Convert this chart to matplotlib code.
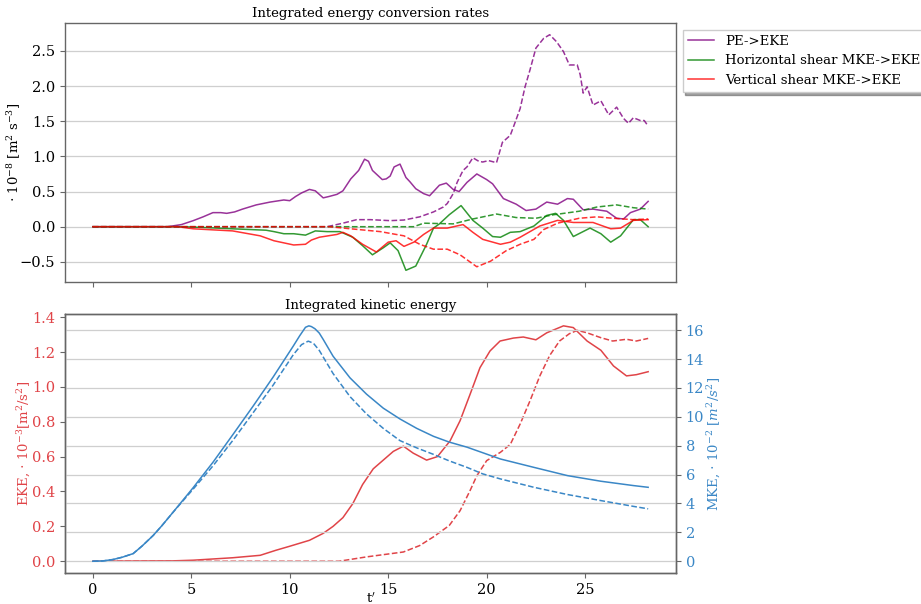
import matplotlib
matplotlib.use("Agg")
import matplotlib.pyplot as plt
import numpy as np

plt.rcParams["font.family"] = ["DejaVu Serif"]
plt.rcParams["mathtext.fontset"] = "dejavuserif"
plt.rcParams["axes.unicode_minus"] = True

PURPLE = "purple"
GREEN = "green"
RED = "red"
EKE_RED = "#e04448"
MKE_BLUE = "#3a87c6"
SPINE = "#666666"
GRID = "#cfcfcf"

# --- conversion rates (1e-8 m^2 s^-3), solid = run A, dashed = run B ---
t_pe = [0, 3.0, 3.8, 4.5, 5.1, 5.6, 6.1, 6.5, 6.8, 7.2, 7.6, 8.3, 9.0, 9.7, 10.0, 10.3,
        10.6, 11.0, 11.3, 11.7, 12.0, 12.4, 12.7, 13.1, 13.5, 13.8, 14.0, 14.2, 14.7,
        14.9, 15.1, 15.3, 15.6, 15.9, 16.1, 16.4, 16.8, 17.1, 17.3, 17.6, 17.95, 18.3,
        18.6, 19.0, 19.5, 20.0, 20.3, 20.85, 21.5, 22.0, 22.5, 23.05, 23.6, 24.1, 24.4,
        24.9, 25.4, 26.1, 26.6, 26.95, 27.3, 27.8, 28.2]
pe_a = [0, 0, 0, 0.03, 0.086, 0.14, 0.20, 0.20, 0.19, 0.21, 0.25, 0.31, 0.35, 0.38, 0.37,
        0.43, 0.48, 0.53, 0.51, 0.41, 0.43, 0.46, 0.51, 0.68, 0.80, 0.96, 0.93, 0.80, 0.67,
        0.68, 0.72, 0.85, 0.89, 0.70, 0.64, 0.54, 0.47, 0.44, 0.50, 0.59, 0.62, 0.53,
        0.50, 0.63, 0.75, 0.67, 0.61, 0.40, 0.32, 0.23, 0.25, 0.35, 0.32, 0.40, 0.39,
        0.24, 0.25, 0.22, 0.12, 0.11, 0.20, 0.25, 0.36]

t_pe_b = [0, 11.9, 12.7, 13.4, 14.1, 15.1, 15.8, 16.6, 17.3, 17.8, 18.0, 18.3, 18.5, 18.8,
          19.0, 19.3, 19.6, 19.8, 20.1, 20.5, 20.8, 21.2, 21.4, 21.7, 21.95, 22.2, 22.5,
          22.9, 23.2, 23.55, 23.9, 24.2, 24.6, 24.75, 24.9, 25.1, 25.4, 25.8, 26.2, 26.6,
          26.95, 27.2, 27.45, 27.8, 28.0, 28.2]
pe_b = [0, 0, 0.05, 0.10, 0.10, 0.086, 0.095, 0.14, 0.21, 0.28, 0.33, 0.47, 0.63, 0.80,
        0.85, 0.98, 0.93, 0.92, 0.94, 0.91, 1.20, 1.30, 1.45, 1.68, 1.99, 2.23, 2.54,
        2.68, 2.73, 2.63, 2.49, 2.30, 2.30, 2.16, 1.90, 1.99, 1.73, 1.79, 1.59, 1.70,
        1.54, 1.47, 1.55, 1.51, 1.51, 1.43]

t_hs = [0, 4.5, 5.5, 7.1, 8.8, 9.2, 9.7, 10.2, 10.8, 11.3, 11.9, 12.55, 13.2, 13.7, 14.2,
        14.75, 15.1, 15.5, 15.9, 16.4, 16.95, 17.3, 17.6, 18.1, 18.7, 19.3, 19.8, 20.3,
        20.7, 21.2, 21.7, 22.4, 23.05, 23.5, 23.9, 24.4, 25.25, 25.8, 26.3, 26.8, 27.45,
        27.8, 28.2]
hs_a = [0, 0, -0.01, -0.03, -0.05, -0.07, -0.10, -0.10, -0.12, -0.06, -0.07, -0.07, -0.15,
        -0.27, -0.40, -0.30, -0.23, -0.34, -0.62, -0.56, -0.25, -0.02, 0.04, 0.17, 0.30,
        0.09, -0.02, -0.14, -0.15, -0.08, -0.07, 0.01, 0.16, 0.19, 0.09, -0.14, -0.02,
        -0.10, -0.22, -0.13, 0.10, 0.10, 0.0]

t_hs_b = [0, 16.3, 16.8, 18.3, 19.3, 20.5, 21.5, 22.5, 23.4, 24.7, 25.6, 26.6, 27.45, 28.2]
hs_b = [0, 0, 0.05, 0.04, 0.11, 0.18, 0.13, 0.12, 0.17, 0.22, 0.28, 0.31, 0.27, 0.25]

t_vs = [0, 4.3, 5.1, 7.1, 8.5, 9.2, 10.2, 10.8, 11.1, 11.5, 12.4, 12.7, 13.1, 13.7, 14.4,
        15.0, 15.4, 15.8, 16.3, 16.8, 17.3, 18.0, 18.8, 19.3, 19.8, 20.7, 21.2, 21.7,
        22.7, 23.6, 24.4, 25.4, 26.3, 26.8, 27.45, 28.2]
vs_a = [0, 0, -0.03, -0.06, -0.13, -0.20, -0.26, -0.25, -0.19, -0.15, -0.11, -0.08, -0.13,
        -0.25, -0.36, -0.22, -0.20, -0.28, -0.22, -0.11, -0.02, -0.02, 0.03, -0.08,
        -0.18, -0.25, -0.22, -0.15, 0.01, 0.09, 0.06, 0.06, -0.03, -0.02, 0.09, 0.10]

t_vs_b = [0, 12.0, 13.1, 14.6, 15.8, 16.6, 17.3, 18.0, 18.65, 19.5, 20.2, 21.0, 21.7, 22.4,
          22.9, 23.6, 24.7, 25.6, 26.4, 27.45, 28.2]
vs_b = [0, 0, -0.03, -0.07, -0.13, -0.25, -0.32, -0.32, -0.40, -0.57, -0.49, -0.34, -0.25,
        -0.18, -0.04, 0.05, 0.12, 0.14, 0.12, 0.10, 0.11]

# --- integrated kinetic energy ---
t_eke = [0, 4.0, 5.1, 7.1, 8.5, 9.3, 10.0, 11.0, 11.7, 12.2, 12.7, 13.2, 13.7, 14.24, 14.75,
         15.26, 15.77, 16.27, 16.95, 17.5, 18.14, 18.65, 19.16, 19.66, 20.17, 20.68, 21.36,
         21.86, 22.5, 23.05, 23.9, 24.4, 25.1, 25.8, 26.44, 27.1, 27.6, 28.2]
eke_a = [0, 0.002, 0.006, 0.02, 0.034, 0.063, 0.086, 0.12, 0.16, 0.20, 0.25, 0.33, 0.44,
         0.53, 0.58, 0.63, 0.66, 0.62, 0.58, 0.60, 0.69, 0.806, 0.958, 1.11, 1.206, 1.263,
         1.28, 1.286, 1.27, 1.31, 1.35, 1.34, 1.263, 1.21, 1.12, 1.063, 1.07, 1.087]

t_eke_b = [0, 12.5, 13.9, 14.9, 15.77, 16.6, 17.3, 18.1, 18.65, 19.16, 19.5, 20.0, 20.7,
           21.2, 21.7, 22.2, 22.7, 23.2, 23.7, 24.2, 24.6, 25.1, 25.8, 26.4, 27.1, 27.6, 28.2]
eke_b = [0, 0.0, 0.025, 0.04, 0.053, 0.09, 0.14, 0.205, 0.29, 0.406, 0.49, 0.577, 0.625,
         0.67, 0.787, 0.92, 1.063, 1.18, 1.263, 1.305, 1.324, 1.31, 1.282, 1.263, 1.273,
         1.263, 1.278]

t_mke = [0, 0.5, 1.03, 1.5, 2.05, 2.5, 3.07, 3.5, 4.08, 5.1, 6.1, 7.13, 8.15, 9.16, 10.18,
         10.5, 10.8, 10.97, 11.1, 11.28, 11.5, 11.7, 12.2, 13.06, 13.9, 14.75, 15.6, 16.45,
         17.3, 18.1, 19.0, 20.7, 22.4, 24.1, 25.8, 27.45, 28.2]
mke_a = [0, 0.02, 0.12, 0.28, 0.53, 1.05, 1.79, 2.45, 3.4, 5.1, 6.85, 8.8, 10.76, 12.76, 14.9,
         15.6, 16.2, 16.3, 16.25, 16.1, 15.8, 15.36, 14.2, 12.7, 11.57, 10.6, 9.85, 9.2,
         8.65, 8.25, 7.9, 7.08, 6.5, 5.93, 5.54, 5.24, 5.12]

t_mke_b = [0, 0.5, 1.03, 1.5, 2.05, 2.5, 3.07, 3.5, 4.08, 5.1, 6.1, 7.13, 8.15, 9.16, 10.18,
           10.6, 10.94, 11.2, 11.5, 12.2, 13.06, 13.9, 14.75, 15.6, 16.45, 17.3, 18.1, 19.0,
           19.8, 20.7, 22.4, 24.1, 25.8, 27.45, 28.2]
mke_b = [0, 0.02, 0.12, 0.28, 0.53, 1.05, 1.79, 2.45, 3.4, 5.0, 6.6, 8.4, 10.3, 12.2, 14.3,
         15.0, 15.24, 15.1, 14.6, 13.0, 11.4, 10.2, 9.2, 8.35, 7.85, 7.4, 6.95, 6.5, 6.05,
         5.7, 5.12, 4.62, 4.2, 3.8, 3.63]


def style_axes(ax):
    for spine in ax.spines.values():
        spine.set_color(SPINE)
        spine.set_linewidth(1.0)
    ax.tick_params(labelsize=10.5, color=SPINE, length=3.5, width=0.8)


fig = plt.figure(figsize=(9.21, 6.04), dpi=100, facecolor="white")
ax_top = fig.add_axes([0.0706, 0.533, 0.6633, 0.429])
ax_bot = fig.add_axes([0.0706, 0.0513, 0.6633, 0.4287], sharex=ax_top)

# top panel
ax_top.plot(t_pe, pe_a, color=PURPLE, alpha=0.8, lw=1.1, label="PE->EKE")
ax_top.plot(t_hs, hs_a, color=GREEN, alpha=0.8, lw=1.1, label="Horizontal shear MKE->EKE")
ax_top.plot(t_vs, vs_a, color=RED, alpha=0.8, lw=1.1, label="Vertical shear MKE->EKE")
ax_top.plot(t_pe_b, pe_b, color=PURPLE, alpha=0.8, lw=1.1, ls="--")
ax_top.plot(t_hs_b, hs_b, color=GREEN, alpha=0.8, lw=1.1, ls="--")
ax_top.plot(t_vs_b, vs_b, color=RED, alpha=0.8, lw=1.1, ls="--")
ax_top.grid(axis="y", color=GRID, lw=0.9)
ax_top.set_axisbelow(True)
style_axes(ax_top)
ax_top.tick_params(axis="x", labelbottom=False)
ax_top.set_yticks([-0.5, 0.0, 0.5, 1.0, 1.5, 2.0, 2.5])
ax_top.set_ylabel(r"$\cdot\ 10^{-8}$ [m$^2$ s$^{-3}$]", fontsize=9.5)
ax_top.yaxis.set_label_coords(-0.069, 0.5)
ax_top.set_title("Integrated energy conversion rates", fontsize=9.5, pad=4)
leg = ax_top.legend(loc="upper left", bbox_to_anchor=(1.0, 1.0), fontsize=9.5,
                    shadow=True, fancybox=False, framealpha=1.0, edgecolor="#cccccc")

# bottom panel
ax_bot.plot(t_eke, eke_a, color=EKE_RED, lw=1.1)
ax_bot.plot(t_eke_b, eke_b, color=EKE_RED, lw=1.1, ls="--")
ax_bot.set_yticks([0.0, 0.2, 0.4, 0.6, 0.8, 1.0, 1.2, 1.4])
ax_bot.set_ylabel(r"EKE, $\cdot\ 10^{-3}$[$\mathrm{m}^2/\mathrm{s}^2$]", color=EKE_RED, fontsize=9.5)
ax_bot.yaxis.set_label_coords(-0.052, 0.5)
style_axes(ax_bot)
ax_bot.tick_params(axis="y", labelcolor=EKE_RED)
ax_bot.set_xticks([0, 5, 10, 15, 20, 25])
ax_bot.set_xlabel("t$'$", fontsize=9.5)
ax_bot.xaxis.set_label_coords(0.5, -0.07)
ax_bot.set_title("Integrated kinetic energy", fontsize=9.5, pad=4)

ax_r = ax_bot.twinx()
ax_r.plot(t_mke, mke_a, color=MKE_BLUE, lw=1.1)
ax_r.plot(t_mke_b, mke_b, color=MKE_BLUE, lw=1.1, ls="--")
ax_r.set_yticks([0, 2, 4, 6, 8, 10, 12, 14, 16])
ax_r.grid(axis="y", color=GRID, lw=0.9)
ax_r.set_axisbelow(True)
style_axes(ax_r)
ax_r.tick_params(axis="y", labelcolor=MKE_BLUE)
ax_r.set_ylabel(r"MKE, $\cdot\ 10^{-2}$ [$m^2/s^2$]", color=MKE_BLUE, fontsize=9.5,
                labelpad=1)

fig.savefig("out.png", dpi=100, facecolor="white")
